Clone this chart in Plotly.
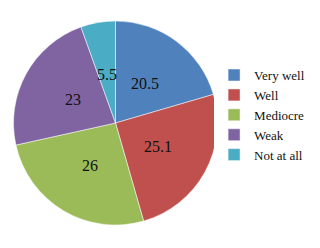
import math
import plotly.graph_objects as go

categories = ["Very well", "Well", "Mediocre", "Weak", "Not at all"]
values = [20.5, 25.1, 26, 23, 5.5]
colors = ["#4F81BD", "#C0504D", "#9BBB59", "#8064A2", "#4BACC6"]

W, H = 320, 248
dom_x = [13 / W, 218 / W]
dom_y = [23 / H, 227 / H]

fig = go.Figure(go.Pie(
    labels=categories,
    values=values,
    textinfo="none",
    sort=False,
    direction="clockwise",
    rotation=0,
    marker=dict(colors=colors, line=dict(color="white", width=0.5)),
    domain=dict(x=dom_x, y=dom_y),
))

# data labels placed along each slice's bisector at ~half radius
cx = (dom_x[0] + dom_x[1]) / 2 * W
cy = (dom_y[0] + dom_y[1]) / 2 * H
R = min((dom_x[1] - dom_x[0]) * W, (dom_y[1] - dom_y[0]) * H) / 2
total = sum(values)
cum = 0
for v in values:
    mid = (cum + v / 2) / total * 2 * math.pi
    cum += v
    px = cx + 0.48 * R * math.sin(mid)
    py = cy + 0.48 * R * math.cos(mid)
    fig.add_annotation(x=px / W, y=py / H, xref="paper", yref="paper",
                       xanchor="center", yanchor="middle",
                       text=str(v), showarrow=False,
                       font=dict(family="Liberation Serif", size=16, color="#111"))

fig.update_layout(
    width=W, height=H,
    margin=dict(l=0, r=0, t=0, b=0),
    paper_bgcolor="white",
    legend=dict(x=0.669, y=0.536, xanchor="left", yanchor="middle",
                font=dict(family="Liberation Serif", size=13, color="#111"),
                itemwidth=30, tracegroupgap=0),
)
fig.write_html("out.html")
